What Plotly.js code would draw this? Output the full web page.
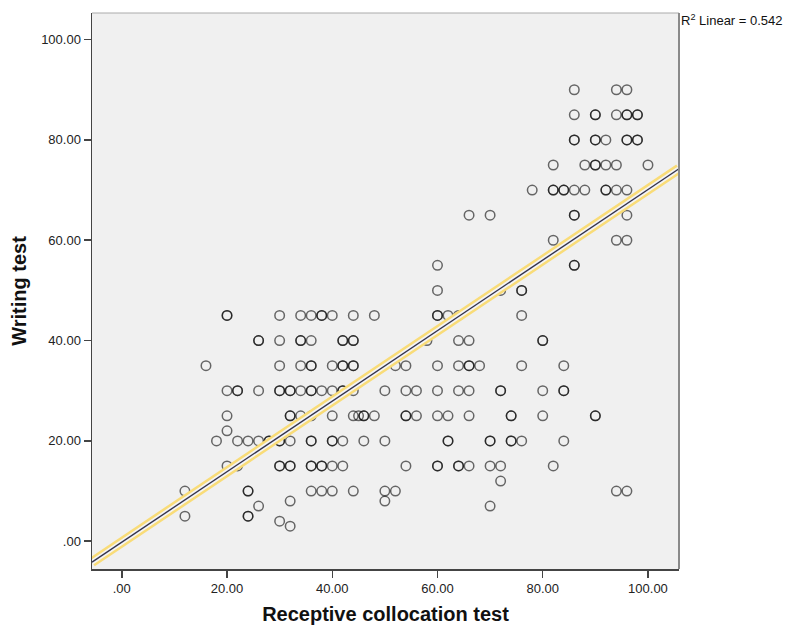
<!DOCTYPE html>
<html>
<head>
<meta charset="utf-8">
<script src="https://cdn.plot.ly/plotly-3.0.1.min.js"></script>
<style>
  html, body { margin: 0; padding: 0; background: #ffffff; }
  #chart { width: 789px; height: 625px; }
</style>
</head>
<body>
<div id="chart"></div>
<script>
// Receptive collocation test (x) and Writing test (y); repeated pairs are overlapping cases
const collocation = [
  86, 94, 96,
  86, 90, 90, 94, 96, 96, 98, 98,
  86, 86, 90, 90, 92, 96, 96, 98, 98,
  82, 88, 90, 90, 92, 94, 100,
  78, 82, 82, 84, 84, 86, 88, 92, 92, 94, 96,
  66, 70, 86, 86, 96,
  82, 94, 96,
  60, 86, 86,
  60, 72, 76, 76,
  20, 20, 30, 34, 36, 38, 38, 40, 44, 48, 60, 60, 62, 64, 76,
  26, 26, 30, 34, 34, 36, 42, 42, 44, 44, 58, 64, 66, 80, 80,
  16, 30, 34, 36, 36, 40, 42, 42, 44, 44, 52, 54, 60, 64, 66, 66, 68, 76, 84,
  20, 22, 22, 26, 30, 30, 32, 32, 34, 36, 36, 38, 40, 42, 42, 44, 50, 54, 56, 60, 64, 66, 72, 72, 80, 84, 84,
  20, 32, 32, 34, 36, 40, 44, 45, 46, 46, 48, 54, 54, 56, 60, 62, 66, 74, 74, 80, 90, 90,
  20,
  18, 22, 24, 26, 28, 28, 30, 30, 32, 36, 36, 40, 40, 42, 46, 50, 62, 62, 70, 70, 74, 74, 76, 84,
  20, 22, 30, 30, 32, 32, 36, 36, 38, 38, 40, 42, 54, 60, 60, 64, 64, 66, 70, 72, 82,
  72,
  12, 24, 24, 36, 38, 40, 44, 50, 52, 94, 96,
  32, 50,
  26, 70,
  12, 24, 24,
  30,
  32
];
const writing = [
  90, 90, 90,
  85, 85, 85, 85, 85, 85, 85, 85,
  80, 80, 80, 80, 80, 80, 80, 80, 80,
  75, 75, 75, 75, 75, 75, 75,
  70, 70, 70, 70, 70, 70, 70, 70, 70, 70, 70,
  65, 65, 65, 65, 65,
  60, 60, 60,
  55, 55, 55,
  50, 50, 50, 50,
  45, 45, 45, 45, 45, 45, 45, 45, 45, 45, 45, 45, 45, 45, 45,
  40, 40, 40, 40, 40, 40, 40, 40, 40, 40, 40, 40, 40, 40, 40,
  35, 35, 35, 35, 35, 35, 35, 35, 35, 35, 35, 35, 35, 35, 35, 35, 35, 35, 35,
  30, 30, 30, 30, 30, 30, 30, 30, 30, 30, 30, 30, 30, 30, 30, 30, 30, 30, 30, 30, 30, 30, 30, 30, 30, 30, 30,
  25, 25, 25, 25, 25, 25, 25, 25, 25, 25, 25, 25, 25, 25, 25, 25, 25, 25, 25, 25, 25, 25,
  22,
  20, 20, 20, 20, 20, 20, 20, 20, 20, 20, 20, 20, 20, 20, 20, 20, 20, 20, 20, 20, 20, 20, 20, 20,
  15, 15, 15, 15, 15, 15, 15, 15, 15, 15, 15, 15, 15, 15, 15, 15, 15, 15, 15, 15, 15,
  12,
  10, 10, 10, 10, 10, 10, 10, 10, 10, 10, 10,
  8, 8,
  7, 7,
  5, 5, 5,
  4,
  3
];

// Fit line
const fitIntercept = -0.2;
const fitSlope = 0.703;
const r2Label = 'R<sup>2</sup> Linear = 0.542';

const tickValues = [0, 20, 40, 60, 80, 100];
const tickLabels = ['.00', '20.00', '40.00', '60.00', '80.00', '100.00'];
const xRange = [-5.66, 105.9];
const yRange = [-5.54, 105.3];

const fitX = [xRange[0], xRange[1]];
const fitY = fitX.map(v => fitIntercept + fitSlope * v);

const FONT = 'Liberation Sans, Arial, sans-serif';

const traces = [
  {
    type: 'scatter', mode: 'markers',
    x: collocation, y: writing,
    marker: { symbol: 'circle-open', size: 9.5, color: '#000000', opacity: 0.58, line: { width: 1.5, color: '#000000' } },
    hoverinfo: 'x+y', showlegend: false
  },
  { type: 'scatter', mode: 'lines', x: fitX, y: fitY, line: { color: 'rgb(249,220,120)', width: 10 }, showlegend: false, hoverinfo: 'skip' },
  { type: 'scatter', mode: 'lines', x: fitX, y: fitY, line: { color: '#f4f4f4', width: 5 }, showlegend: false, hoverinfo: 'skip' },
  { type: 'scatter', mode: 'lines', x: fitX, y: fitY, line: { color: '#34344e', width: 1.4 }, showlegend: false, hoverinfo: 'skip' }
];

const axisCommon = {
  showgrid: false, zeroline: false,
  showline: true, linecolor: '#444444', linewidth: 1.5,
  ticks: 'outside', ticklen: 7, tickwidth: 1.5, tickcolor: '#444444',
  tickvals: tickValues, ticktext: tickLabels,
  tickfont: { family: FONT, size: 13, color: '#222222' },
  automargin: false
};

const layout = {
  width: 789, height: 625,
  margin: { l: 92, r: 110, t: 13, b: 56 },
  paper_bgcolor: '#ffffff',
  plot_bgcolor: '#f0f0f0',
  showlegend: false,
  xaxis: Object.assign({}, axisCommon, {
    range: xRange,
    title: { text: 'Receptive collocation test', font: { family: FONT, size: 20, color: '#111111', weight: 'bold' }, standoff: 15 }
  }),
  yaxis: Object.assign({}, axisCommon, {
    range: yRange,
    title: { text: 'Writing test', font: { family: FONT, size: 20, color: '#111111', weight: 'bold' }, standoff: 9 }
  }),
  shapes: [
    { type: 'line', xref: 'paper', yref: 'paper', x0: 0, x1: 1, y0: 1, y1: 1, line: { color: '#aaaaaa', width: 1 } },
    { type: 'line', xref: 'paper', yref: 'paper', x0: 1, x1: 1, y0: 0, y1: 1, line: { color: '#8a8a8a', width: 2 } }
  ],
  annotations: [
    { xref: 'paper', yref: 'paper', x: 1, y: 1, xanchor: 'left', yanchor: 'top', xshift: 0, yshift: 3,
      text: r2Label, showarrow: false, font: { family: FONT, size: 13, color: '#111111' } }
  ]
};

Plotly.newPlot('chart', traces, layout, { staticPlot: true, displayModeBar: false });
</script>
</body>
</html>
